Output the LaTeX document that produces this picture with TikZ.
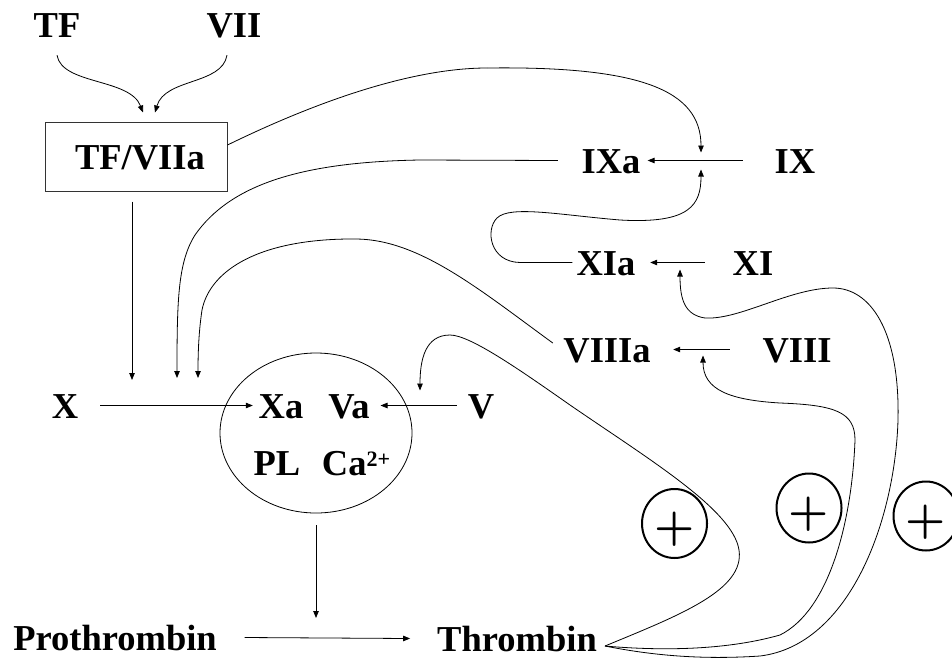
\documentclass[tikz,border=0pt]{standalone}
\usepackage{fontspec}
\setmainfont{Liberation Serif}
\newfontfamily\plusfont{lmroman10-bold.otf}
\usetikzlibrary{arrows.meta,shapes.geometric}
\begin{document}
\begin{tikzpicture}[x=1pt,y=-1pt,
  lab/.style={font=\fontsize{36.5}{40}\selectfont\bfseries, inner sep=0pt, text height=25pt, text depth=0pt, anchor=base},
  wire/.style={line width=0.8pt},
  arr/.style={wire,-{Triangle[length=7pt,width=5.5pt]}},
  pluscirc/.style={draw, ellipse, line width=2pt, minimum width=65pt, minimum height=69pt, inner sep=0pt,
    text height=34pt, text depth=0pt, font=\plusfont\fontsize{45}{45}\selectfont}]
\useasboundingbox (0,0) rectangle (952,659);

% labels
\node[lab] (TF) at (57,37) {TF};
\node[lab] (VII) at (234,37) {VII};
\node[lab, anchor=center, draw=black!80, line width=1pt, minimum width=182pt, minimum height=69pt] (TFV) at (136,156.5) {\hspace*{8pt}TF/VIIa};
\node[lab] (IXa) at (611,173) {IXa};
\node[lab] (IX) at (795,173) {IX};
\node[lab] (XIa) at (606,275) {XIa};
\node[lab] (XI) at (753,275) {XI};
\node[lab] (VIIIa) at (607,362) {VIIIa};
\node[lab] (VIII) at (797,362) {VIII};
\node[lab] (X) at (65,418) {X};
\node[lab] (V) at (481,418) {V};
\node[draw, ellipse, wire, minimum width=192pt, minimum height=160pt] (cplx) at (316,433) {};
\node[lab] (Xa) at (281,418) {Xa};
\node[lab] (Va) at (349,418) {Va};
\node[lab] (PL) at (277,475) {PL};
\node[lab] (Ca) at (356,475) {Ca\raisebox{9pt}{\fontsize{22}{22}\selectfont 2+}};
\node[lab] (Pro) at (115,650) {Prothrombin};
\node[lab] (Thr) at (517,651) {Thrombin};

% plus circles
\node[pluscirc] (p1) at (674.5,523.5) {+};
\node[pluscirc] (p2) at (809,508) {+};
\node[pluscirc] (p3) at (926,516) {+};

% junction points on reaction arrows
\coordinate (j9) at (701,0 |- IX.west);
\coordinate (j11) at (680,0 |- XI.west);
\coordinate (j8) at (703,0 |- VIII.west);
\coordinate (jv) at (420,0 |- V.west);
\coordinate (jx1) at (132,0 |- X.east);
\coordinate (jx2) at (177,0 |- X.east);
\coordinate (jx3) at (198,0 |- X.east);
\coordinate (jp) at (316,0 |- Pro.east);
\coordinate (ts) at ([xshift=8pt,yshift=-7.5pt]Thr.east);

% TF + VII -> TF/VIIa
\draw[arr] ([yshift=-18pt]TF.south) .. controls (62,85) and (130,78) .. ([xshift=7pt,yshift=9pt]TFV.north);
\draw[arr] ([xshift=-7pt,yshift=-18pt]VII.south) .. controls (222,85) and (165,78) .. ([xshift=19pt,yshift=9pt]TFV.north);

% TF/VIIa -> IX activation
\draw[wire] ([yshift=11.5pt]TFV.east) .. controls (330,95) and (420,68) .. (487,68);
\draw[arr] (487,68) .. controls (640,66) and (701,90) .. ([yshift=8pt]j9);

% TF/VIIa -> X activation
\draw[arr] ([xshift=-4pt,yshift=-10pt]TFV.south) -- ([yshift=25.5pt]jx1);

% reactions
\draw[arr] ([xshift=-32pt]IX.west) -- ([xshift=7pt]IXa.east);
\draw[arr] ([xshift=-28pt]XI.west) -- ([xshift=14.6pt]XIa.east);
\draw[arr] ([xshift=-32.5pt]VIII.west) -- ([xshift=22.4pt]VIIIa.east);
\draw[arr] ([xshift=-11pt]V.west) -- ([xshift=10.7pt]Va.east);
\draw[arr] ([xshift=22pt]X.east) -- ([xshift=-5.7pt]Xa.west);
\draw[arr] ([yshift=-12pt]cplx.south) -- ([yshift=19.5pt]jp);
\draw[arr] ([xshift=27.6pt]Pro.east) -- ([xshift=-26.9pt]Thr.west);

% XIa -> IX activation
\draw[arr] ([xshift=-4pt]XIa.west) -- (520,262.5) .. controls (490,262) and (485,230) .. (497,218)
  .. controls (510,205) and (560,215) .. (620,220) .. controls (690,224) and (701,205) .. ([yshift=-9pt]j9);

% IXa -> X activation
\draw[arr] ([xshift=-23.6pt]IXa.west) -- (420,160) .. controls (300,162) and (230,185) .. (195,235)
  .. controls (178,262) and (177,300) .. ([yshift=27.5pt]jx2);

% VIIIa -> X activation
\draw[arr] ([xshift=-10.4pt,yshift=6.5pt]VIIIa.west) .. controls (480,290) and (420,240) .. (357,239)
  .. controls (260,238) and (210,270) .. (202,310) .. controls (199,330) and (198,350) .. ([yshift=27.5pt]jx3);

% Thrombin feedback loops
\draw[arr] (ts) .. controls (680,615) and (745,590) .. (739,550) .. controls (733,510) and (650,460) .. (570,405)
  .. controls (520,370) and (470,335) .. (450,335) .. controls (425,335) and (420,360) .. ([yshift=15pt]jv);
\draw[arr] (ts) .. controls (650,650) and (720,652) .. (780,635) .. controls (830,610) and (852,520) .. (855,440)
  .. controls (855,412) and (835,405) .. (780,403) .. controls (730,400) and (703,390) .. ([yshift=-6pt]j8);
\draw[arr] (ts) .. controls (650,655) and (700,660) .. (760,656) .. controls (850,645) and (895,520) .. (898,420)
  .. controls (900,330) and (870,288) .. (833,288) .. controls (790,288) and (740,320) .. (705,318)
  .. controls (685,315) and (680,300) .. ([yshift=-7pt]j11);
\end{tikzpicture}
\end{document}
